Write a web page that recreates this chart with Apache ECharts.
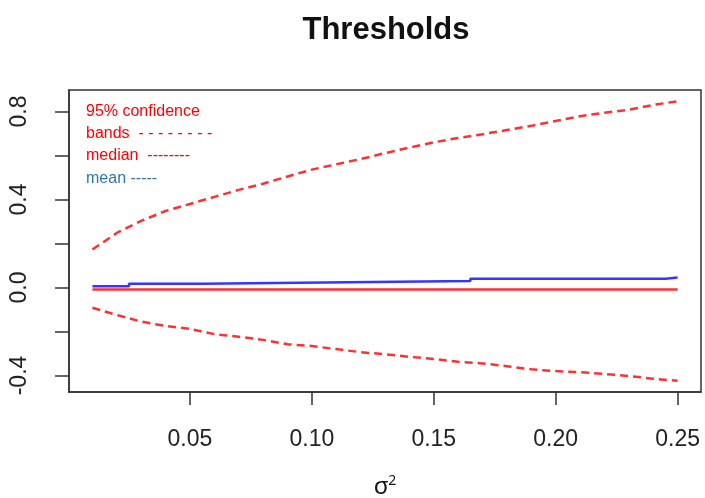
<!DOCTYPE html>
<html>
<head>
<meta charset="utf-8">
<script src="https://cdn.jsdelivr.net/npm/echarts@6/dist/echarts.min.js"></script>
<style>html,body{margin:0;padding:0;background:#fff}#c{width:705px;height:498px}</style>
</head>
<body>
<div id="c"></div>
<script>
// ---- data ----
const sigma2 = [0.01,0.02,0.03,0.04,0.05,0.06,0.07,0.08,0.09,0.10,0.11,0.12,0.13,0.14,0.15,0.16,0.17,0.18,0.19,0.20,0.21,0.22,0.23,0.24,0.25];
const upperBand = [0.173,0.248,0.303,0.348,0.380,0.412,0.444,0.472,0.505,0.536,0.560,0.584,0.611,0.636,0.660,0.680,0.697,0.716,0.735,0.757,0.779,0.795,0.808,0.830,0.847];
const lowerBand = [-0.092,-0.125,-0.155,-0.175,-0.188,-0.212,-0.224,-0.238,-0.258,-0.266,-0.280,-0.294,-0.303,-0.315,-0.325,-0.338,-0.345,-0.358,-0.372,-0.380,-0.385,-0.393,-0.402,-0.415,-0.424];
const medianX = [0.01,0.25];
const medianY = [-0.009,-0.009];
const meanX = [0.01,0.025,0.055,0.105,0.165,0.245,0.25];
const meanY = [0.006,0.017,0.023,0.030,0.040,0.046,0.046];
const xTicks = [0.05,0.10,0.15,0.20,0.25];
const yTicks = [-0.4,-0.2,0.0,0.2,0.4,0.6,0.8];
const yLabels = [-0.4,0.0,0.4,0.8];
const legendLines = ["95% confidence","bands  - - - - - - - -","median  --------","mean -----"];

const pairs = (xs, ys) => xs.map((x, i) => [x, ys[i]]);
const axisColor = '#333';
const chart = echarts.init(document.getElementById('c'));
const dash = [8,5];
chart.setOption({
  animation: false,
  grid: {left: 69, right: 4, top: 90, bottom: 106, outerBoundsMode: 'none', containLabel: false, show: true, borderColor: axisColor, borderWidth: 1.5, backgroundColor: 'transparent'},
  xAxis: {
    type: 'value', min: 0.0004, max: 0.2596,
    splitLine: {show: false},
    axisLine: {show: true, onZero: false, lineStyle: {color: axisColor, width: 1.5}},
    axisTick: {show: true, length: 13, customValues: xTicks, lineStyle: {color: axisColor, width: 1.5}},
    axisLabel: {customValues: xTicks, formatter: v => v.toFixed(2), fontFamily: 'Liberation Sans', fontSize: 23, color: '#222', margin: 36},
    name: '{a|σ}{b|2}', nameLocation: 'middle', nameGap: 82,
    nameTextStyle: {rich: {a: {fontFamily: 'Noto Sans', fontSize: 24, color: '#111'}, b: {fontFamily: 'Noto Sans', fontSize: 14, color: '#111', verticalAlign: 'top', padding: [0,0,12,0]}}}
  },
  yAxis: {
    type: 'value', min: -0.475, max: 0.898,
    splitLine: {show: false},
    axisLine: {show: true, onZero: false, lineStyle: {color: axisColor, width: 1.5}},
    axisTick: {show: true, length: 14, customValues: yTicks, lineStyle: {color: axisColor, width: 1.5}},
    axisLabel: {customValues: yLabels, formatter: v => v.toFixed(1), rotate: 90, fontFamily: 'Liberation Sans', fontSize: 23, color: '#222', margin: 38}
  },
  series: [
    {type: 'line', name: 'upper', data: pairs(sigma2, upperBand), showSymbol: false, symbol: 'none', lineStyle: {color: '#ff3030', width: 2.5, type: dash}},
    {type: 'line', name: 'lower', data: pairs(sigma2, lowerBand), showSymbol: false, symbol: 'none', lineStyle: {color: '#ff3030', width: 2.5, type: dash}},
    {type: 'line', name: 'median', data: pairs(medianX, medianY), showSymbol: false, symbol: 'none', lineStyle: {color: '#ff3030', width: 2.5}},
    {type: 'line', name: 'mean', data: pairs(meanX, meanY), step: 'end', showSymbol: false, symbol: 'none', lineStyle: {color: '#3535ff', width: 2.5}}
  ],
  graphic: [
    {type: 'text', style: {text: 'Thresholds', x: 386, y: 30, align: 'center', verticalAlign: 'middle', font: 'bold 31px "Liberation Sans"', fill: '#111'}},
    ...legendLines.map((t, i) => ({type: 'text', style: {text: t, x: 86, y: [112, 134, 156, 179][i], verticalAlign: 'middle', font: '16px "Liberation Sans"', fill: i < 3 ? '#ff0000' : '#2e75b6'}}))
  ]
});
</script>
</body>
</html>
